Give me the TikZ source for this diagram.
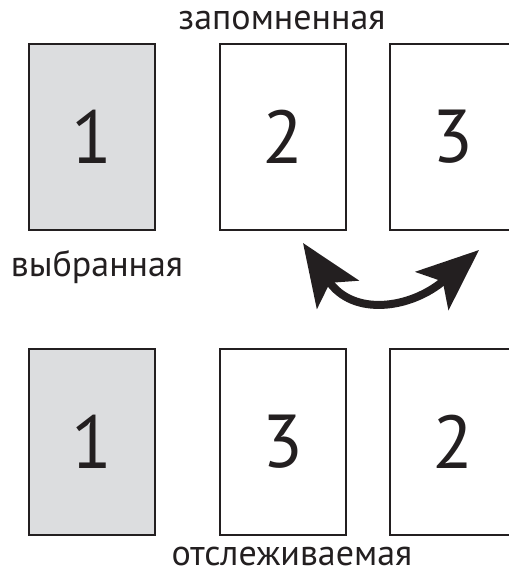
\documentclass[tikz,border=0pt]{standalone}
\usepackage{fontspec}
\setmainfont{PT Sans}
\usetikzlibrary{arrows.meta}
\definecolor{inkgray}{HTML}{231F20}
\definecolor{selgray}{HTML}{DCDDDF}

\begin{document}
\begin{tikzpicture}[x=1pt,y=-1pt,
    page/.style={draw=inkgray,line width=2.2pt,minimum width=126pt,minimum height=186pt,
      inner sep=0pt,text=inkgray,font=\fontsize{75}{75}\selectfont},
    chosen/.style={page,fill=selgray},
    caption/.style={text=inkgray,inner sep=0pt,font=\fontsize{36}{36}\selectfont},
    swaphead/.tip={Stealth[length=62pt,width=50pt,inset=14pt]}]
    \useasboundingbox (0,0) rectangle (509,576);
    \clip (0,0) rectangle (509,576);
    % pages before the swap
    \node[chosen] (top1) at (92,137) {1};
    \node[page] (top2) at (283,137) {2};
    \node[page] (top3) at (453,137) {3};
    % pages after the swap
    \node[chosen] (bot1) at (92,442) {1};
    \node[page] (bot2) at (283,442) {3};
    \node[page] (bot3) at (453,442) {2};
    % labels
    \node[caption] (remembered) at (282,20) {запомненная};
    \node[caption] (selected) at (97,267) {выбранная};
    \node[caption] (tracked) at (292,556) {отслеживаемая};
    % swap arrow
    \coordinate (swapL) at (303,243);
    \coordinate (swapR) at (479,250);
    \draw[line width=8pt,inkgray,swaphead-swaphead] (swapL) to[out=-56,in=-139,looseness=1.3] (swapR);
\end{tikzpicture}
\end{document}
